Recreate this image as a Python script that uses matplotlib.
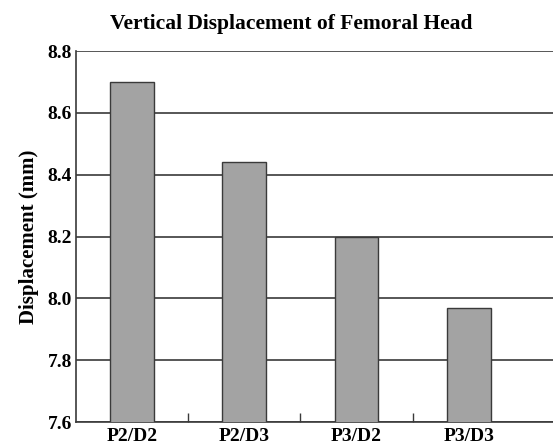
import matplotlib

matplotlib.use("Agg")

import matplotlib.pyplot as plt
import numpy as np

# values
categories = ["P2/D2", "P2/D3", "P3/D2", "P3/D3"]
displacement = [8.70, 8.44, 8.20, 7.97]
y_ticks = [7.6, 7.8, 8.0, 8.2, 8.4, 8.6, 8.8]

plt.rcParams["font.family"] = ["Liberation Serif", "DejaVu Serif"]
plt.rcParams["font.weight"] = "bold"

fig = plt.figure(figsize=(5.53, 4.48), dpi=100)
ax = fig.add_axes([76 / 553, 1 - 422 / 448, 1 - 76 / 553, (422 - 51) / 448])

x = np.arange(len(categories))
ax.bar(x, displacement, width=0.39, bottom=0, color="#a3a3a3",
       edgecolor="#3a3a3a", linewidth=1.0, zorder=3)

ax.set_ylim(7.6, 8.8)
ax.set_xlim(-0.5, 3.75)
ax.set_yticks(y_ticks)
ax.set_yticklabels([f"{v:.1f}" for v in y_ticks], fontsize=14, fontweight="bold")
ax.tick_params(axis="y", length=0, pad=3)

# category labels at bar centres, tick marks between categories
ax.set_xticks(x)
ax.set_xticklabels(categories, fontsize=14, fontweight="bold")
ax.tick_params(axis="x", which="major", length=0, pad=4)
ax.set_xticks(x[:-1] + 0.5, minor=True)
ax.tick_params(axis="x", which="minor", direction="in", length=6.5,
               width=1.0, color="#3a3a3a")

ax.grid(axis="y", color="#3a3a3a", linewidth=1.2, zorder=1)
for side in ["top", "right"]:
    ax.spines[side].set_visible(False)
for side in ["left", "bottom"]:
    ax.spines[side].set_color("#3a3a3a")
    ax.spines[side].set_linewidth(1.2)

ax.set_ylabel("Displacement (mm)", fontsize=15, fontweight="bold", labelpad=6)
fig.text(0.527, 1 - 24 / 448, "Vertical Displacement of Femoral Head",
         ha="center", va="center", fontsize=15.5, fontweight="bold")

fig.savefig("out.png", dpi=100)
